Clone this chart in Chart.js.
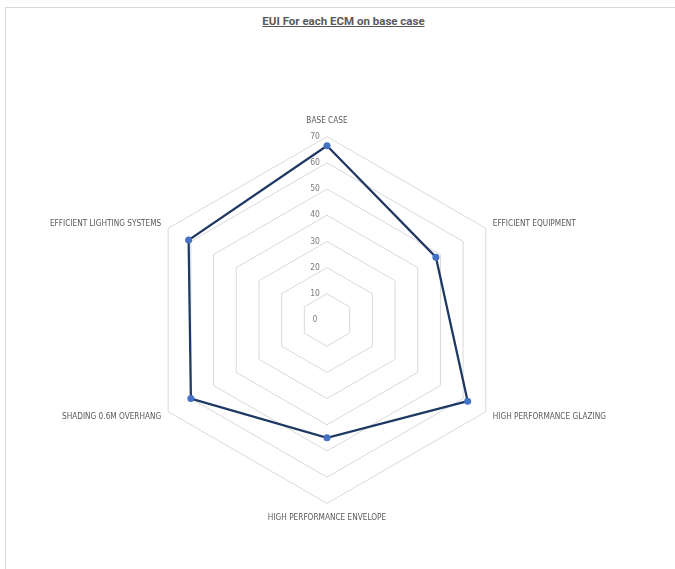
<!DOCTYPE html>
<html>
<head>
<meta charset="utf-8">
<script src="https://cdn.jsdelivr.net/npm/chart.js"></script>
<style>
  html, body {
    margin: 0;
    padding: 0;
    background: #fff;
    overflow: hidden;
  }
  #wrap {
    position: relative;
    width: 675px;
    height: 569px;
  }
  #frame {
    position: absolute;
    left: 5px;
    top: 7px;
    width: 700px;
    height: 600px;
    border: 1px solid #d9d9d9;
  }
  #title {
    position: absolute;
    left: 0;
    top: 14px;
    width: 687px;
    text-align: center;
    font-family: Roboto, sans-serif;
    font-size: 11.5px;
    font-weight: bold;
    color: #595959;
    text-decoration: underline;
  }
  canvas {
    position: absolute;
    left: 0;
    top: 0;
  }
</style>
</head>
<body>
<div id="wrap">
  <div id="frame"></div>
  <div id="title">EUI For each ECM on base case</div>
  <canvas id="chart" width="675" height="569"></canvas>
</div>

<script>
// axes of the radar, clockwise from the top
const categories = [
  'BASE CASE',
  'EFFICIENT EQUIPMENT',
  'HIGH PERFORMANCE GLAZING',
  'HIGH PERFORMANCE ENVELOPE',
  'SHADING 0.6M OVERHANG',
  'EFFICIENT LIGHTING SYSTEMS'
];

// EUI per measure
const euiValues = [66.5, 48, 62, 45, 60, 61];

const tickValues = [0, 10, 20, 30, 40, 50, 60, 70];

// label gap per axis
const labelPad = [15, 8, 8, 14, 8, 8];

const smallFont = '"DejaVu Sans Condensed", "Liberation Sans Narrow", sans-serif';

// tick numbers sit a little left of the top axis, 0 included
const tickLabels = {
  id: 'tickLabels',
  beforeDatasetsDraw(chart) {
    const scale = chart.scales.r;
    const c = chart.ctx;
    c.save();
    c.font = '8.5px ' + smallFont;
    c.fillStyle = '#7a7a7a';
    c.textAlign = 'center';
    c.textBaseline = 'middle';
    tickValues.forEach(v => {
      const d = scale.getDistanceFromCenterForValue(v);
      c.fillText(String(v), scale.xCenter - 12, scale.yCenter - d);
    });
    c.restore();
  }
};

new Chart(document.getElementById('chart').getContext('2d'), {
  type: 'radar',
  data: {
    labels: categories,
    datasets: [{
      label: 'EUI',
      data: euiValues,
      borderColor: '#1f3864',
      borderWidth: 2.25,
      backgroundColor: 'transparent',
      fill: false,
      pointBackgroundColor: '#4472c4',
      pointBorderColor: '#4472c4',
      pointBorderWidth: 0,
      pointRadius: 3.5,
      tension: 0
    }]
  },
  options: {
    responsive: false,
    animation: false,
    layout: {
      padding: { top: 119, bottom: 49, left: 0, right: 21 }
    },
    plugins: {
      legend: { display: false },
      tooltip: { enabled: false }
    },
    scales: {
      r: {
        min: 0,
        max: 70,
        beginAtZero: true,
        angleLines: { display: false },
        grid: { color: '#d9d9d9', lineWidth: 1 },
        ticks: { display: false, stepSize: 10 },
        pointLabels: {
          color: '#595959',
          font: { family: smallFont, size: 8.2, lineHeight: 0.2 },
          padding: ctx => labelPad[ctx.index]
        }
      }
    }
  },
  plugins: [tickLabels]
});
</script>
</body>
</html>
